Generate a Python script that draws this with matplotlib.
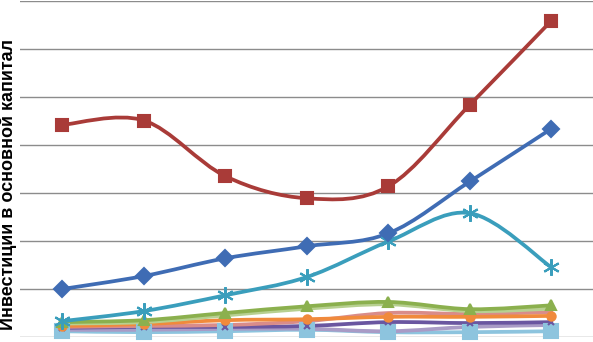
import matplotlib.pyplot as plt
from matplotlib.path import Path
from matplotlib.patches import PathPatch

years = [0, 1, 2, 3, 4, 5, 6]

red = [4.42, 4.51, 3.35, 2.89, 3.14, 4.84, 6.59]
blue = [1.00, 1.27, 1.64, 1.89, 2.16, 3.24, 4.34]
teal = [0.33, 0.54, 0.87, 1.25, 1.99, 2.58, 1.45]
green = [0.31, 0.35, 0.50, 0.64, 0.73, 0.58, 0.66]
light_green = [0.28, 0.31, 0.45, 0.59, 0.68, 0.54, 0.59]
orange = [0.23, 0.27, 0.35, 0.37, 0.42, 0.42, 0.44]
pink = [0.21, 0.23, 0.25, 0.33, 0.50, 0.48, 0.52]
purple = [0.19, 0.21, 0.21, 0.23, 0.31, 0.29, 0.31]
lavender = [0.15, 0.15, 0.17, 0.17, 0.12, 0.21, 0.25]
light_blue = [0.12, 0.10, 0.12, 0.15, 0.10, 0.10, 0.12]

# (values, colour, marker, marker size)
series = [
    (light_blue, "#8DC4DE", "s", 10),
    (lavender, "#A99BC6", None, 0),
    (purple, "#6A56A0", "x", 5),
    (pink, "#D98C8A", None, 0),
    (orange, "#F08A3C", "o", 6),
    (light_green, "#B7D090", None, 0),
    (green, "#8BB04E", "^", 7),
    (teal, "#3A9EBC", (6, 2, 0), 12),
    (blue, "#3F6CB4", "D", 8),
    (red, "#A93B38", "s", 9),
]


def smooth_path(xs, ys):
    # Excel-like smoothed line: Bezier segments through the points
    pts = list(zip(xs, ys))
    verts = [pts[0]]
    codes = [Path.MOVETO]
    n = len(pts)
    for i in range(n - 1):
        p0 = pts[i - 1] if i > 0 else pts[i]
        p1 = pts[i]
        p2 = pts[i + 1]
        p3 = pts[i + 2] if i + 2 < n else pts[i + 1]
        c1 = (p1[0] + (p2[0] - p0[0]) / 6, p1[1] + (p2[1] - p0[1]) / 6)
        c2 = (p2[0] - (p3[0] - p1[0]) / 6, p2[1] - (p3[1] - p1[1]) / 6)
        verts += [c1, c2, p2]
        codes += [Path.CURVE4] * 3
    return Path(verts, codes)


fig = plt.figure(figsize=(5.93, 3.42), dpi=100)
ax = fig.add_axes([20 / 593, 5 / 342, 573 / 593, 336 / 342])

for vals, col, mk, ms in series:
    ax.add_patch(PathPatch(smooth_path(years, vals), facecolor="none",
                           edgecolor=col, lw=2.7, capstyle="round", zorder=3))
    if mk is not None:
        ax.plot(years, vals, linestyle="none", marker=mk, color=col,
                markersize=ms, markeredgecolor=col, markeredgewidth=1.5, zorder=4,
                clip_on=False)

ax.set_xlim(-0.52, 6.51)
ax.set_ylim(0, 7)
ax.set_yticks(range(8))
ax.grid(axis="y", color="#8C8C8C", lw=1)
ax.set_axisbelow(True)
ax.tick_params(length=0, labelleft=False, labelbottom=False)
for s in ax.spines.values():
    s.set_visible(False)

fig.text(8 / 593, 1 - 184 / 342, "Инвестиции в основной капитал",
         rotation=90, ha="center", va="center", fontsize=13,
         fontweight="bold", family="Liberation Sans")

fig.savefig("out.png", dpi=100)
